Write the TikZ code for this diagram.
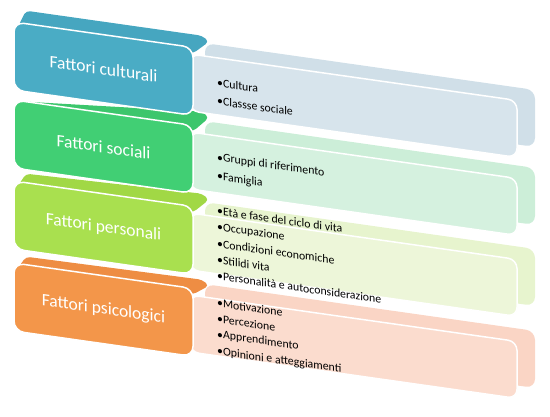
\documentclass[tikz,border=0pt]{standalone}
\usepackage{fontspec}
\setmainfont{Carlito}
\definecolor{cbox}{HTML}{4AACC5}
\definecolor{ctop}{HTML}{46A6C0}
\definecolor{cpb}{HTML}{D0DFE8}
\definecolor{cpf}{HTML}{D7E4EC}
\definecolor{sbox}{HTML}{41CF74}
\definecolor{stop}{HTML}{3CC66C}
\definecolor{spb}{HTML}{CCEED8}
\definecolor{spf}{HTML}{D5F1DF}
\definecolor{pbox}{HTML}{A9E04F}
\definecolor{ptop}{HTML}{A1D845}
\definecolor{ppb}{HTML}{E7F4CE}
\definecolor{ppf}{HTML}{EDF6D9}
\definecolor{qbox}{HTML}{F3964A}
\definecolor{qtop}{HTML}{EE8D43}
\definecolor{qpb}{HTML}{FAD5C5}
\definecolor{qpf}{HTML}{FBDCCE}
\tikzset{
  titletext/.style={text=white,font=\fontsize{17.5}{21}\selectfont,transform shape,inner sep=0pt},
  bullettext/.style={text=black,font=\fontsize{11.8}{13}\selectfont,anchor=west,transform shape,inner sep=0pt},
  frontface/.style={draw=white,line width=1.5pt},
}
% #1 t, #2 box, #3 top, #4 panel back, #5 panel front, #6 dl, #7 dr, #8 title, #9 name
\newcommand\drawlayer[9]{%
  \fill[#4,rounded corners=9pt] (205,{#1-6}) rectangle (535,{#1+51});
  \path[frontface,fill=#5,rounded corners=9pt] (190,{#1+7}) rectangle (517,{#1+64});
  \fill[#3,rounded corners=4pt] (17,{#1+6}) -- (26,{#1-#6}) -- (202,{#1-#7}) -- (209,{#1-#7+5}) -- (193,{#1+6}) -- cycle;
  \path[frontface,fill=#2,rounded corners=10pt] (14,#1) rectangle (193,{#1+68});
  \node[titletext] (#9) at (103.5,{#1+34}) {#8};
}
\begin{document}
\begin{tikzpicture}
\useasboundingbox (0,0) rectangle (550pt,-416pt);
\begin{scope}[x=1pt,y=-1pt,yslant=-0.142,yshift=1.988pt]
\drawlayer{263}{qbox}{qtop}{qpb}{qpf}{8}{10}{Fattori psicologici}{psic}
\node[bullettext] (q1) at (217,274) {•Motivazione};
\node[bullettext] (q2) at (217,290) {•Percezione};
\node[bullettext] (q3) at (217,306) {•Apprendimento};
\node[bullettext] (q4) at (217,323) {•Opinioni e atteggiamenti};
\drawlayer{181}{pbox}{ptop}{ppb}{ppf}{9}{14}{Fattori personali}{pers}
\node[bullettext] (p1) at (217,182) {•Età e fase del ciclo di vita};
\node[bullettext] (p2) at (217,198.5) {•Occupazione};
\node[bullettext] (p3) at (217,214.5) {•Condizioni economiche};
\node[bullettext] (p4) at (217,231) {•Stilidi vita};
\node[bullettext] (p5) at (217,247) {•Personalità e autoconsiderazione};
\drawlayer{100}{sbox}{stop}{spb}{spf}{0}{15}{Fattori sociali}{soc}
\node[bullettext] (s1) at (217,129) {•Gruppi di riferimento};
\node[bullettext] (s2) at (217,148) {•Famiglia};
\drawlayer{22}{cbox}{ctop}{cpb}{cpf}{13}{13}{Fattori culturali}{cult}
\node[bullettext] (c1) at (217,54) {•Cultura};
\node[bullettext] (c2) at (217,72) {•Classse sociale};
\end{scope}
\end{tikzpicture}
\end{document}
